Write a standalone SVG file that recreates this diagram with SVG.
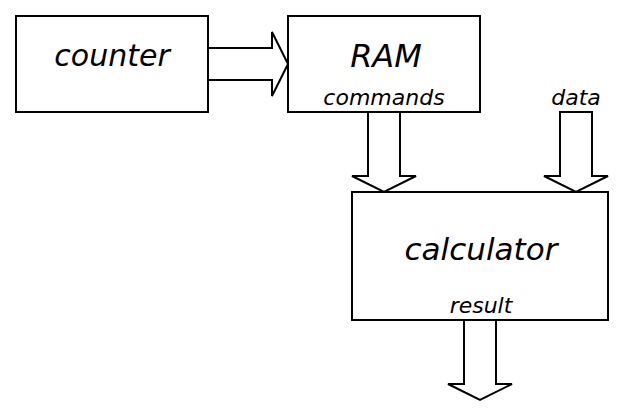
<svg xmlns="http://www.w3.org/2000/svg" width="624" height="416" viewBox="0 0 624 416">
<style>
.box{fill:#fff;stroke:#000;stroke-width:2}
.arr{fill:#fff;stroke:#000;stroke-width:2;stroke-linejoin:miter}
.big{font-family:"DejaVu Sans",sans-serif;font-style:italic;font-size:30px;text-anchor:middle;fill:#000}
.small{font-family:"DejaVu Sans",sans-serif;font-style:italic;font-size:22px;text-anchor:middle;fill:#000}
</style>
<rect width="624" height="416" fill="#fff"/>
<g id="connectors">
<polygon class="arr" points="208,48 272,48 272,32 288,64 272,96 272,80 208,80"/>
<polygon class="arr" points="368,112 400,112 400,176 416,176 384,192 352,176 368,176"/>
<polygon class="arr" points="560,112 592,112 592,176 608,176 576,192 544,176 560,176"/>
<polygon class="arr" points="464,320 496,320 496,384 512,384 480,400 448,384 464,384"/>
</g>
<g id="counter">
<rect class="box" x="16" y="16" width="192" height="96"/>
<text class="big" x="112" y="66">counter</text>
</g>
<g id="ram">
<rect class="box" x="288" y="16" width="192" height="96"/>
<text class="big" x="386" y="67" style="font-size:32px">RAM</text>
<text class="small" x="384" y="105">commands</text>
</g>
<g id="data-label">
<text class="small" x="576" y="105">data</text>
</g>
<g id="calculator">
<rect class="box" x="352" y="192" width="256" height="128"/>
<text class="big" x="481" y="260" style="font-size:31px">calculator</text>
<text class="small" x="481" y="313">result</text>
</g>
</svg>
